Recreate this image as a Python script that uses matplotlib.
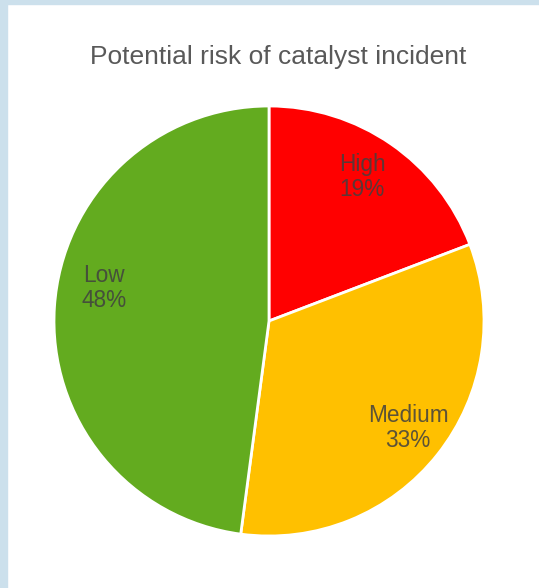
import matplotlib
matplotlib.use("Agg")
import matplotlib.pyplot as plt
from matplotlib.patches import Rectangle

categories = ["High", "Medium", "Low"]
values = [19.2, 32.9, 47.9]
pct_labels = ["19%", "33%", "48%"]
colors = ["#FF0000", "#FFC000", "#63AB1F"]
title = "Potential risk of catalyst incident"
# label anchor positions (in pie radius units)
label_xy = [(0.433, 0.670), (0.647, -0.498), (-0.767, 0.153)]

W, H = 539, 588
fig = plt.figure(figsize=(W / 100, H / 100), dpi=100)
fig.patch.set_facecolor("white")
fig.add_artist(Rectangle((0, 0), 7 / W, 1, transform=fig.transFigure, color="#CCE0EC", zorder=0))
fig.add_artist(Rectangle((0, 1 - 4 / H), 1, 4 / H, transform=fig.transFigure, color="#CCE0EC", zorder=0))

cx, cy, r = 269, 321, 215
ax = fig.add_axes([(cx - r) / W, (H - cy - r) / H, 2 * r / W, 2 * r / H])
wedges, texts = ax.pie(values, colors=colors, startangle=90, counterclock=False,
                       wedgeprops=dict(edgecolor="white", linewidth=2),
                       labels=[f"{c}\n{p}" for c, p in zip(categories, pct_labels)],
                       labeldistance=0.79,
                       textprops=dict(fontsize=16.3, color="#404040", alpha=0.85,
                                      family="Liberation Sans", ha="center", va="center",
                                      linespacing=1.15))
for t, (x, y) in zip(texts, label_xy):
    t.set_position((x, y))
ax.set_xlim(-1, 1)
ax.set_ylim(-1, 1)
ax.axis("off")

fig.text(278 / W, 1 - 57 / H, title, ha="center", va="center", fontsize=19,
         color="#595959", family="Liberation Sans")

fig.savefig("out.png", dpi=100)
